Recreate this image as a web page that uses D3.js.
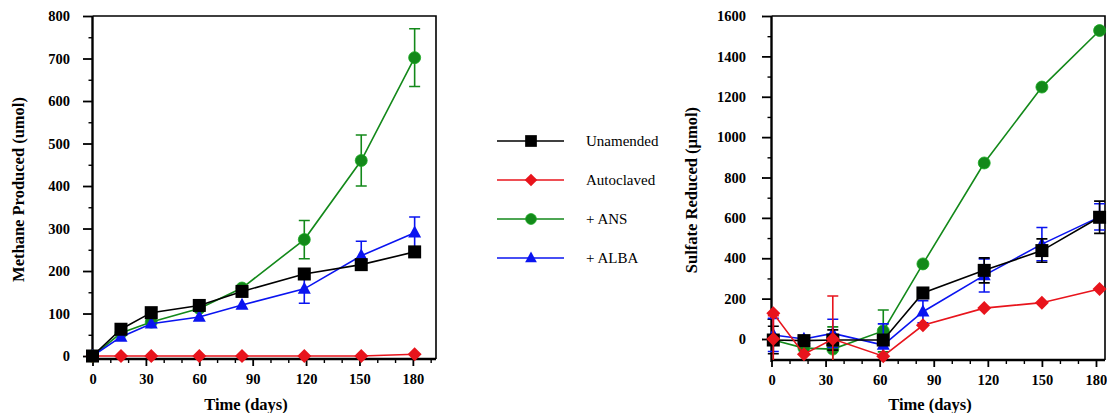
<!DOCTYPE html>
<html><head><meta charset="utf-8">
<script src="https://cdn.jsdelivr.net/npm/d3@7"></script>
<style>body{margin:0;background:#fff}svg{display:block}</style>
</head><body><svg id="c" width="1107" height="413"></svg>
<script>
// ---------- data ----------
const seriesNames  = ["Unamended", "Autoclaved", "+ ANS", "+ ALBA"];
const seriesColors = ["#000000", "#e8141c", "#13891a", "#0a14f0"];
const seriesShapes = ["square", "diamond", "circle", "triangle"];

// Methane panel
const methaneDays        = [0, 16, 33, 60, 84, 119, 151, 181];
const methaneUnamended   = [0, 63, 102, 119, 152, 193, 215, 245];
const methaneAutoclaved  = [0, 0, 0, 0, 0, 0, 0, 4];
const methaneANS         = [0, 54, 80, 112, 160, 274, 460, 702];
const methaneALBA        = [0, 45, 76, 92, 120, 158, 236, 290];
const methaneErrUnamended  = [0, 0, 0, 0, 0, 0, 0, 0];
const methaneErrAutoclaved = [0, 0, 0, 0, 0, 0, 0, 0];
const methaneErrANS        = [0, 0, 0, 0, 0, 45, 60, 68];
const methaneErrALBA       = [0, 0, 0, 0, 0, 34, 34, 37];

// Sulfate panel
const sulfateDays        = [1, 18, 34, 62, 84, 118, 150, 182];
const sulfateDaysAuto    = [1, 1, 18, 34, 62, 84, 118, 150, 182];
const sulfateUnamended   = [-5, -8, -5, -5, 228, 340, 438, 603];
const sulfateAutoclaved  = [0, 127, -75, 0, -85, 68, 153, 180, 248];
const sulfateANS         = [-5, -45, -50, 40, 372, 872, 1248, 1528];
const sulfateALBA        = [20, 0, 28, -30, 135, 315, 470, 605];
const sulfateErrUnamended  = [68, 0, 50, 0, 0, 62, 58, 80];
const sulfateErrAutoclaved = [115, 0, 0, 213, 0, 0, 0, 0, 0];
const sulfateErrANS        = [0, 0, 110, 104, 0, 0, 0, 0];
const sulfateErrALBA       = [82, 0, 70, 105, 55, 82, 82, 65];

// Axis ticks
const methaneYTicks = [0, 100, 200, 300, 400, 500, 600, 700, 800];
const sulfateYTicks = [0, 200, 400, 600, 800, 1000, 1200, 1400, 1600];
const dayTicks = [0, 30, 60, 90, 120, 150, 180];

// ---------- build ----------
const svg = d3.select("#c");
const FONT = "'Liberation Serif','Times New Roman',serif";

function mk(days, vals, errs) { return days.map((d, i) => ({x: d, y: vals[i], e: errs[i]})); }

const panels = [
  {
    xDom: [0, 193], xRange: [92.5, 436], yDom: [-7, 800], yRange: [359, 16],
    yTicks: methaneYTicks, yMinorStep: 50, xMax: 190, yPad: 13,
    yTitle: "Methane Produced (umol)", yTitleX: 24, xTitleX: 246,
    order: [1, 2, 3, 0],
    series: [
      mk(methaneDays, methaneUnamended, methaneErrUnamended),
      mk(methaneDays, methaneAutoclaved, methaneErrAutoclaved),
      mk(methaneDays, methaneANS, methaneErrANS),
      mk(methaneDays, methaneALBA, methaneErrALBA)
    ]
  },
  {
    xDom: [0, 185], xRange: [771.5, 1105], yDom: [-104, 1600], yRange: [360, 16],
    yTicks: sulfateYTicks, yMinorStep: 100, xMax: 180, yPad: 16,
    yTitle: "Sulfate Reduced (\u00b5mol)", yTitleX: 697, xTitleX: 930,
    order: [2, 3, 0, 1],
    series: [
      mk(sulfateDays, sulfateUnamended, sulfateErrUnamended),
      mk(sulfateDaysAuto, sulfateAutoclaved, sulfateErrAutoclaved),
      mk(sulfateDays, sulfateANS, sulfateErrANS),
      mk(sulfateDays, sulfateALBA, sulfateErrALBA)
    ]
  }
];

function drawMarker(g, shape, cx, cy, color, scale) {
  const s = scale || 1;
  if (shape === "square") {
    g.append("rect").attr("x", cx - 6.5*s).attr("y", cy - 6.5*s)
      .attr("width", 13*s).attr("height", 13*s).attr("fill", color);
  } else if (shape === "circle") {
    g.append("circle").attr("cx", cx).attr("cy", cy).attr("r", 6*s)
      .attr("fill", color).attr("stroke", d3.color(color).brighter(0.6)).attr("stroke-width", 0.8);
  } else if (shape === "diamond") {
    const r = 7*s;
    g.append("path").attr("d", `M${cx},${cy-r}L${cx+r},${cy}L${cx},${cy+r}L${cx-r},${cy}Z`).attr("fill", color);
  } else if (shape === "triangle") {
    const w = 6.5*s, h = 12*s;
    g.append("path").attr("d", `M${cx},${cy-h*0.6}L${cx+w},${cy+h*0.4}L${cx-w},${cy+h*0.4}Z`).attr("fill", color);
  }
}

panels.forEach((p, pi) => {
  const x = d3.scaleLinear().domain(p.xDom).range(p.xRange);
  const y = d3.scaleLinear().domain(p.yDom).range(p.yRange);
  const [x0, x1] = p.xRange, [yb, yt] = p.yRange;

  const clipId = "clip" + pi;
  svg.append("clipPath").attr("id", clipId).append("rect")
    .attr("x", x0 - 10).attr("y", yt).attr("width", x1 - x0 + 10).attr("height", yb - yt);

  // frame top/right
  svg.append("path").attr("d", `M${x0},${yt}H${x1}V${yb}`)
    .attr("fill", "none").attr("stroke", "#000").attr("stroke-width", 1.6);

  // y axis major
  const yMinor = d3.range(p.yTicks[0], p.yDom[1] + 1, p.yMinorStep).filter(v => !p.yTicks.includes(v));
  const ya = svg.append("g").attr("transform", `translate(${x0},0)`)
    .call(d3.axisLeft(y).tickValues(p.yTicks).tickSize(9.5).tickPadding(p.yPad).tickFormat(d3.format("d")));
  ya.select(".domain").remove();
  ya.selectAll(".tick line").attr("stroke-width", 1.8);
  ya.selectAll("text").attr("font-family", FONT).attr("font-weight", "bold").attr("font-size", 14.5).attr("fill", "#000");
  const yam = svg.append("g").attr("transform", `translate(${x0},0)`)
    .call(d3.axisLeft(y).tickValues(yMinor).tickSize(4).tickFormat(""));
  yam.select(".domain").remove();
  yam.selectAll(".tick line").attr("stroke-width", 1.4);

  // x axis
  const xMinor = d3.range(10, p.xMax + 1, 10).filter(v => v % 30 !== 0);
  const xa = svg.append("g").attr("transform", `translate(0,${yb})`)
    .call(d3.axisBottom(x).tickValues(dayTicks).tickSize(7).tickPadding(8).tickFormat(d3.format("d")));
  xa.select(".domain").remove();
  xa.selectAll(".tick line").attr("stroke-width", 1.8);
  xa.selectAll("text").attr("font-family", FONT).attr("font-weight", "bold").attr("font-size", 14.5).attr("fill", "#000");
  const xam = svg.append("g").attr("transform", `translate(0,${yb})`)
    .call(d3.axisBottom(x).tickValues(xMinor).tickSize(4).tickFormat(""));
  xam.select(".domain").remove();
  xam.selectAll(".tick line").attr("stroke-width", 1.4);

  // main axis lines
  svg.append("path").attr("d", `M${x0},${yt}V${yb + 2}`).attr("stroke", "#000").attr("stroke-width", 2.4);
  svg.append("path").attr("d", `M${x0},${yb}H${x1}`).attr("stroke", "#000").attr("stroke-width", 2.4);

  // titles
  svg.append("text").attr("x", p.xTitleX).attr("y", 410).attr("text-anchor", "middle")
    .attr("font-family", FONT).attr("font-weight", "bold").attr("font-size", 16.5).text("Time (days)");
  svg.append("text").attr("transform", `translate(${p.yTitleX},${(yb + yt) / 2 + 2}) rotate(-90)`)
    .attr("text-anchor", "middle").attr("font-family", FONT).attr("font-weight", "bold").attr("font-size", 16.5)
    .text(p.yTitle);

  // data
  const plot = svg.append("g");
  const line = d3.line().x(d => x(d.x)).y(d => y(d.y));
  p.order.forEach(si => {
    const data = p.series[si], col = seriesColors[si];
    const g = plot.append("g");
    // error bars (clipped to the plot box)
    const eg = g.append("g").attr("clip-path", `url(#${clipId})`);
    data.filter(d => d.e > 0).forEach(d => {
      const cx = x(d.x), yu = y(d.y + d.e), yl = y(d.y - d.e);
      eg.append("path").attr("d", `M${cx},${yu}V${yl}M${cx-5.5},${yu}H${cx+5.5}M${cx-5.5},${yl}H${cx+5.5}`)
        .attr("stroke", col).attr("stroke-width", 1.6).attr("fill", "none");
    });
    g.append("path").datum(data).attr("d", line).attr("fill", "none")
      .attr("stroke", col).attr("stroke-width", 1.6);
    data.forEach(d => drawMarker(g, seriesShapes[si], x(d.x), y(d.y), col));
  });
});

// legend
const legendY = [141, 180, 219, 258];
const lg = svg.append("g");
seriesNames.forEach((n, i) => {
  lg.append("path").attr("d", `M497,${legendY[i]}H564`).attr("stroke", seriesColors[i]).attr("stroke-width", 1.6);
  drawMarker(lg, seriesShapes[i], 531, legendY[i], seriesColors[i], 0.9);
  lg.append("text").attr("x", 586).attr("y", legendY[i] + 5).attr("font-family", FONT)
    .attr("font-size", 15).attr("fill", "#000").text(n);
});
</script>
</body></html>
